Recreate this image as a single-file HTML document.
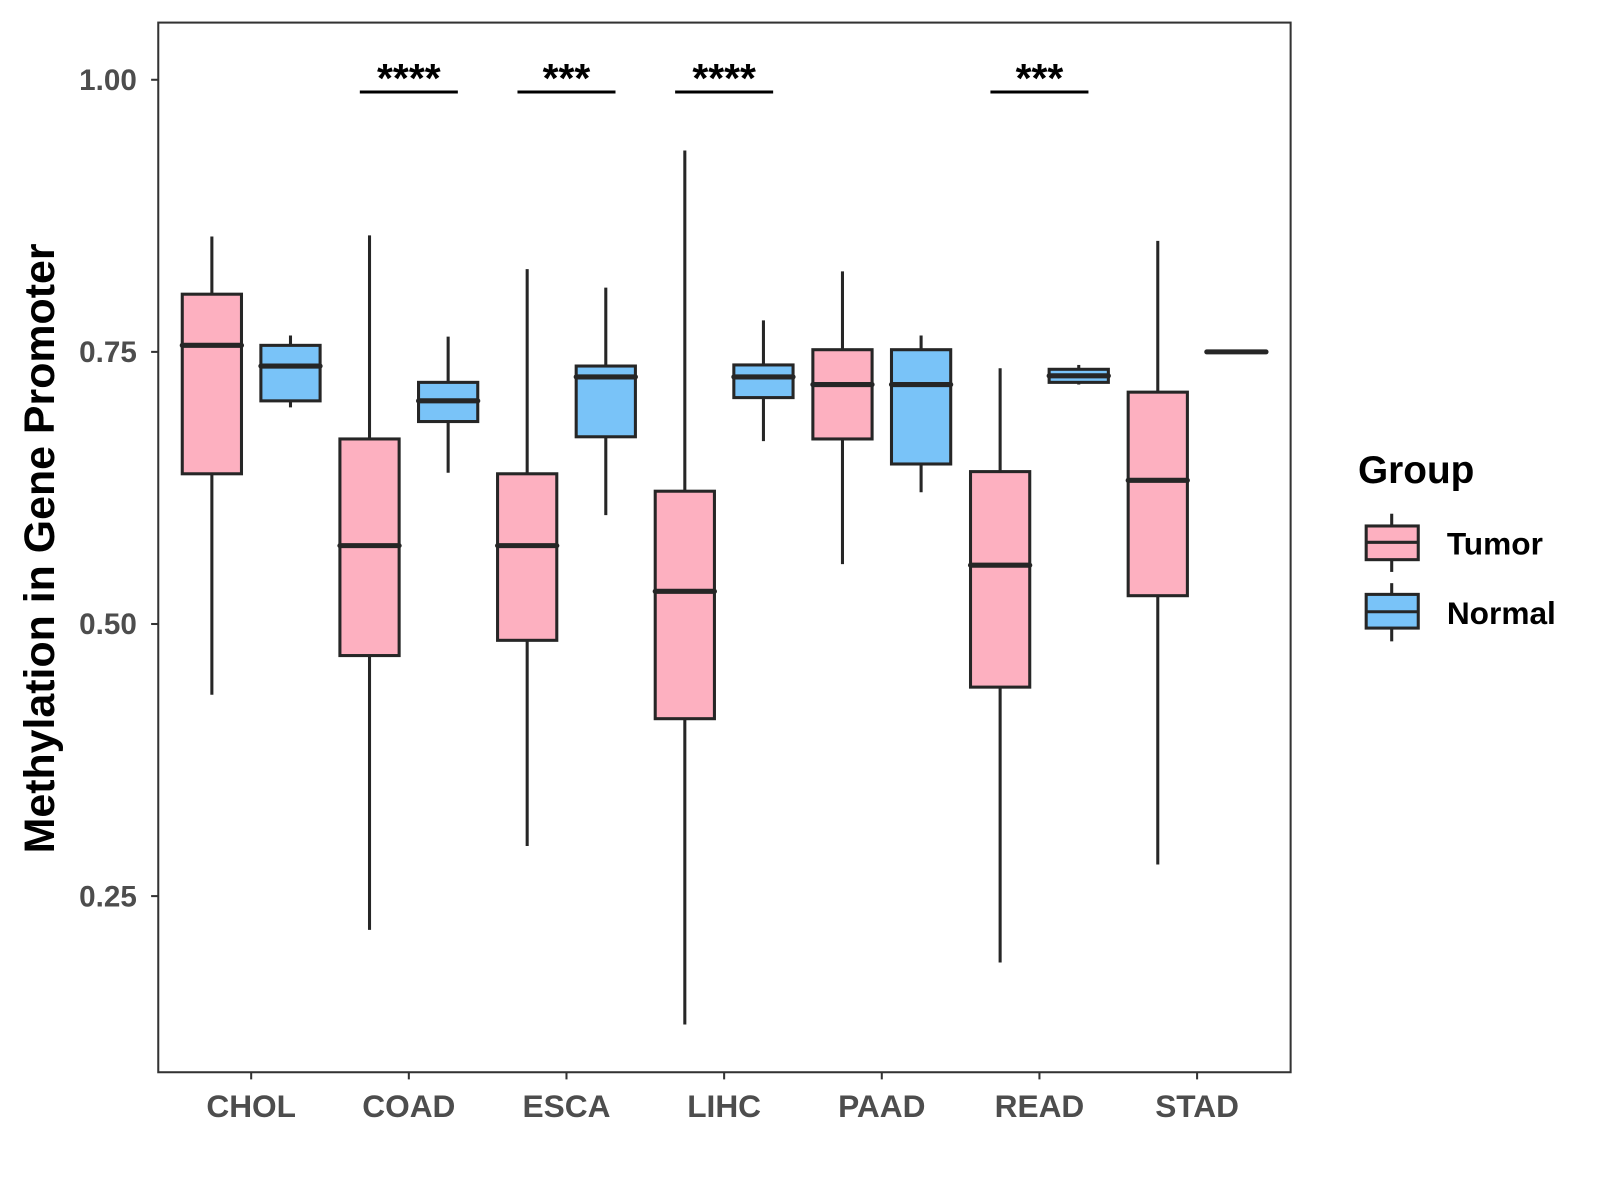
<!DOCTYPE html>
<html><head><meta charset="utf-8"><style>
html,body{margin:0;padding:0;background:#fff}
svg{display:block}
text{font-family:"Liberation Sans",Arial,sans-serif;font-weight:bold}
</style></head><body>
<svg id="chart" width="1600" height="1200" viewBox="0 0 1567 1175" xmlns="http://www.w3.org/2000/svg">
<rect x="155" y="22" width="1109" height="1028" fill="#fff" stroke="#333" stroke-width="2"/>
<g id="marks"></g>
<text transform="translate(53,537) rotate(-90)" text-anchor="middle" font-size="42" fill="#000">Methylation in Gene Promoter</text>
<g>
<text x="1330" y="473" font-size="38" fill="#000">Group</text>
<g>
<line x1="1363" y1="503" x2="1363" y2="560" stroke="#262626" stroke-width="3"/>
<rect x="1338" y="515" width="51" height="33" fill="#FDB0C0" stroke="#262626" stroke-width="3"/>
<line x1="1338" y1="531" x2="1389" y2="531" stroke="#262626" stroke-width="3"/>
<text x="1417" y="543" font-size="31" fill="#000">Tumor</text></g>
<g>
<line x1="1363" y1="571" x2="1363" y2="628" stroke="#262626" stroke-width="3"/>
<rect x="1338" y="582" width="51" height="33" fill="#79C3F8" stroke="#262626" stroke-width="3"/>
<line x1="1338" y1="599" x2="1389" y2="599" stroke="#262626" stroke-width="3"/>
<text x="1417" y="611" font-size="31" fill="#000">Normal</text></g>
</g>
</svg>
<script>
const categories=["CHOL","COAD","ESCA","LIHC","PAAD","READ","STAD"];
// [lowerWhisker, q1, median, q3, upperWhisker]
const tumorStats=[[0.435,0.638,0.756,0.803,0.856],[0.219,0.471,0.572,0.670,0.857],[0.296,0.485,0.572,0.638,0.826],[0.132,0.413,0.530,0.622,0.935],[0.555,0.670,0.720,0.752,0.824],[0.189,0.442,0.554,0.640,0.735],[0.279,0.526,0.632,0.713,0.852]];
const normalStats=[[0.699,0.705,0.737,0.756,0.765],[0.639,0.686,0.705,0.722,0.764],[0.600,0.672,0.727,0.737,0.809],[0.668,0.708,0.727,0.738,0.779],[0.621,0.647,0.720,0.752,0.765],[0.720,0.722,0.728,0.734,0.738],[0.750,0.750,0.750,0.750,0.750]];
const signif=["","****","***","****","","***",""];
const yTicks=[0.25,0.50,0.75,1.00];
const yTickLabels=["0.25","0.50","0.75","1.00"];

const NS="http://www.w3.org/2000/svg";
const g=document.getElementById('marks');
function y(v){return 78+(1-v)*1066;}
function x(i){return 246+i*154.4;}
function mk(tag,attrs,parent){const e=document.createElementNS(NS,tag);for(const k in attrs)e.setAttribute(k,attrs[k]);(parent||g).appendChild(e);return e;}

yTicks.forEach((t,i)=>{
  mk('line',{x1:148,x2:155,y1:y(t),y2:y(t),stroke:'#333','stroke-width':2});
  const tx=mk('text',{x:134,y:y(t)+10,'text-anchor':'end','font-size':29,fill:'#4d4d4d'});
  tx.textContent=yTickLabels[i];
  
  
});
categories.forEach((c,i)=>{
  mk('line',{x1:x(i),x2:x(i),y1:1050,y2:1057,stroke:'#333','stroke-width':2});
  const tx=mk('text',{x:x(i),y:1094,'text-anchor':'middle','font-size':31,fill:'#4d4d4d'});
  tx.textContent=c;
  
  
});
function box(s,cx,fill,name){
  const grp=mk('g',{});
  
  
  const w=58;
  mk('line',{x1:cx,x2:cx,y1:y(s[0]),y2:y(s[4]),stroke:'#262626','stroke-width':3},grp);
  mk('rect',{x:cx-w/2,y:y(s[3]),width:w,height:Math.max(y(s[1])-y(s[3]),0.01),fill:fill,stroke:'#262626','stroke-width':3},grp);
  mk('line',{x1:cx-w/2,x2:cx+w/2,y1:y(s[2]),y2:y(s[2]),stroke:'#262626','stroke-width':5,'stroke-linecap':'round'},grp);
}
categories.forEach((c,i)=>{
  box(tumorStats[i],x(i)-38.5,'#FDB0C0','box-tumor-'+c.toLowerCase());
  box(normalStats[i],x(i)+38.5,'#79C3F8','box-normal-'+c.toLowerCase());
  if(signif[i]){
    const sg=mk('g',{});
    
    
    mk('line',{x1:x(i)-48,x2:x(i)+48,y1:90,y2:90,stroke:'#000','stroke-width':3},sg);
    const t=mk('text',{x:x(i),y:90,'text-anchor':'middle','font-size':40,fill:'#000'},sg);
    t.textContent=signif[i];
  }
});
</script>
</body></html>
